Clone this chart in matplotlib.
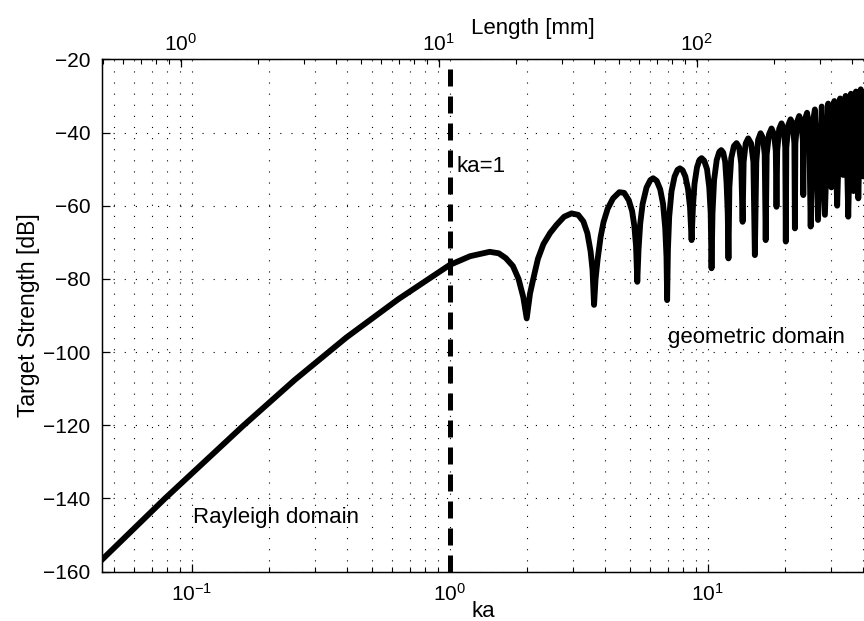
import matplotlib
matplotlib.use("Agg")
import matplotlib.pyplot as plt
from matplotlib.ticker import LogLocator, NullFormatter

plt.rcParams["font.family"] = ["Liberation Sans", "DejaVu Sans"]
plt.rcParams["mathtext.fontset"] = "custom"
plt.rcParams["mathtext.rm"] = "Liberation Sans"
plt.rcParams["mathtext.it"] = "Liberation Sans:italic"

# --- data ------------------------------------------------------------------
# Rayleigh slope + first, wide lobes (ka, target strength in dB)
ka_low = [0.0448, 0.0788, 0.158, 0.251, 0.398, 0.631, 0.839, 1.00, 1.20, 1.43,
          1.55, 1.65, 1.76, 1.85, 1.93, 1.99, 2.05, 2.11, 2.20, 2.31,
          2.45, 2.60, 2.78, 2.97, 3.15, 3.30, 3.42, 3.52, 3.58, 3.63,
          3.68, 3.75, 3.85, 3.95, 4.10, 4.30, 4.55, 4.75, 4.95, 5.10,
          5.20, 5.28, 5.34, 5.40, 5.48, 5.60, 5.80, 6.00, 6.15, 6.35,
          6.55, 6.72, 6.85, 6.93, 6.97, 7.02, 7.10, 7.25, 7.45, 7.65,
          7.81, 8.00, 8.20, 8.40, 8.55, 8.67, 8.78, 8.90, 9.10, 9.30,
          9.48, 9.70, 9.95, 10.15, 10.28, 10.36, 10.45, 10.60, 10.85, 11.10,
          11.30, 11.50, 11.70, 11.85, 11.97, 12.05, 12.15, 12.35, 12.65]
ts_low = [-156.8, -140.0, -120.2, -107.6, -96.0, -85.6, -79.8, -76.2, -73.8, -72.6,
          -73.0, -74.3, -76.5, -80.0, -85.0, -90.8, -84.0, -80.0, -74.5, -70.5,
          -67.5, -65.2, -63.0, -62.1, -62.5, -64.3, -67.5, -72.5, -77.5, -87.1,
          -80.0, -74.5, -68.5, -64.5, -60.8, -58.0, -56.3, -56.5, -58.5, -61.5,
          -65.5, -71.0, -80.8, -72.0, -65.0, -59.5, -55.0, -53.0, -52.5, -53.2,
          -55.5, -59.5, -66.0, -74.0, -85.8, -72.0, -63.0, -56.0, -52.0, -50.2,
          -49.8, -50.3, -52.0, -55.5, -60.5, -69.4, -60.0, -54.0, -49.5, -47.5,
          -47.0, -47.7, -50.0, -55.0, -62.0, -77.1, -62.0, -53.0, -47.5, -45.3,
          -44.8, -45.5, -48.0, -54.0, -62.0, -74.4, -55.0, -47.0, -43.7]

# narrower lobes of the geometric domain
ka_high = [12.95, 13.25, 13.50, 13.67, 13.80, 14.05, 14.37, 14.75, 15.05, 15.25,
           15.45, 15.70, 16.05, 16.40, 16.65, 16.80, 16.95, 17.30, 17.70, 18.10,
           18.38, 18.50, 18.62, 18.95, 19.35, 19.75, 20.00, 20.10, 20.20, 20.60,
           20.98, 21.40, 21.70, 21.80, 21.90, 22.25, 22.65, 23.05, 23.40, 23.50,
           23.60, 23.95, 24.30, 24.75, 25.10, 25.50, 26.06, 26.80, 27.70, 28.50,
           29.35, 30.20, 31.00, 31.80, 32.65, 33.50, 34.30, 35.10, 35.95, 36.80,
           37.60, 38.40, 39.25, 40.10, 40.90]
ts_high = [-42.9, -44.0, -48.5, -64.4, -48.0, -43.0, -41.6, -43.0, -48.0, -73.5,
           -48.0, -42.0, -40.2, -41.5, -46.0, -69.4, -46.0, -40.5, -38.9, -40.5,
           -45.0, -60.3, -45.0, -39.0, -37.5, -39.0, -44.0, -69.8, -44.0, -37.8,
           -36.4, -37.8, -43.0, -66.2, -43.0, -37.0, -35.5, -37.0, -42.0, -57.1,
           -42.0, -36.0, -34.6, -38.0, -65.7, -38.0, -33.7, -63.9, -32.9, -62.5,
           -32.1, -55.0, -31.4, -60.0, -30.7, -51.6, -30.0, -63.0, -29.4, -56.0,
           -28.8, -58.0, -28.2, -52.0, -27.6]

y_ticks = [-160, -140, -120, -100, -80, -60, -40, -20]
ka_limits = (0.0448, 40.4)
mm_per_ka = 11.03  # top axis: Length [mm] = ka * 11.03
# ---------------------------------------------------------------------------

fig = plt.figure(figsize=(8.64, 6.21), dpi=100)
ax = fig.add_axes([0.1177, 0.0794, 0.8823, 0.8251])

ax.plot(ka_low + ka_high, ts_low + ts_high, color="black", lw=4.2,
        solid_joinstyle="round", zorder=5)
ax.axvline(1.0, color="black", lw=3.6, dashes=(3.4, 2.0), zorder=4)

ax.set_xscale("log")
ax.set_xlim(*ka_limits)
ax.set_ylim(-160, -20)
ax.set_yticks(y_ticks)
ax.set_yticklabels(["\u2212%d" % -v for v in y_ticks])
ax.xaxis.set_minor_locator(LogLocator(base=10, subs=range(2, 10), numticks=20))
ax.xaxis.set_minor_formatter(NullFormatter())

dots = (0, (1, 9))
ax.grid(True, which="major", axis="both", color="black", lw=0.8, linestyle=dots)
ax.grid(True, which="minor", axis="x", color="black", lw=0.8, linestyle=dots)

ax.tick_params(which="both", direction="in", top=False, right=False,
               labelsize=15, colors="black")
ax.tick_params(which="major", length=6, width=0.9, pad=8)
ax.tick_params(which="minor", length=3.5, width=0.8)
ax.spines["right"].set_visible(False)
for s in ("left", "bottom", "top"):
    ax.spines[s].set_linewidth(1.0)

ax.set_xlabel("ka", fontsize=16, labelpad=-3)
ax.set_ylabel("Target Strength [dB]", fontsize=16.5, labelpad=2)

ax.text(1.065, -49.4, "ka=1", fontsize=16, ha="left", va="center", zorder=6)
ax.text(0.101, -145.1, "Rayleigh domain", fontsize=16, ha="left",
        va="center", zorder=6)
ax.text(7.02, -95.9, "geometric domain", fontsize=16, ha="left",
        va="center", zorder=6)

# top axis in length units
top = ax.twiny()
top.set_xscale("log")
top.set_xlim(ka_limits[0] * mm_per_ka, ka_limits[1] * mm_per_ka)
top.xaxis.set_minor_locator(LogLocator(base=10, subs=range(2, 10), numticks=20))
top.xaxis.set_minor_formatter(NullFormatter())
top.tick_params(which="both", direction="in", labelsize=15, pad=3)
top.tick_params(which="major", length=6, width=0.9)
top.tick_params(which="minor", length=3.5, width=0.8)
top.spines["right"].set_visible(False)
top.set_xlabel("Length [mm]", fontsize=16)
top.xaxis.set_label_coords(0.565, 1.05)

fig.savefig("out.png", dpi=100)
